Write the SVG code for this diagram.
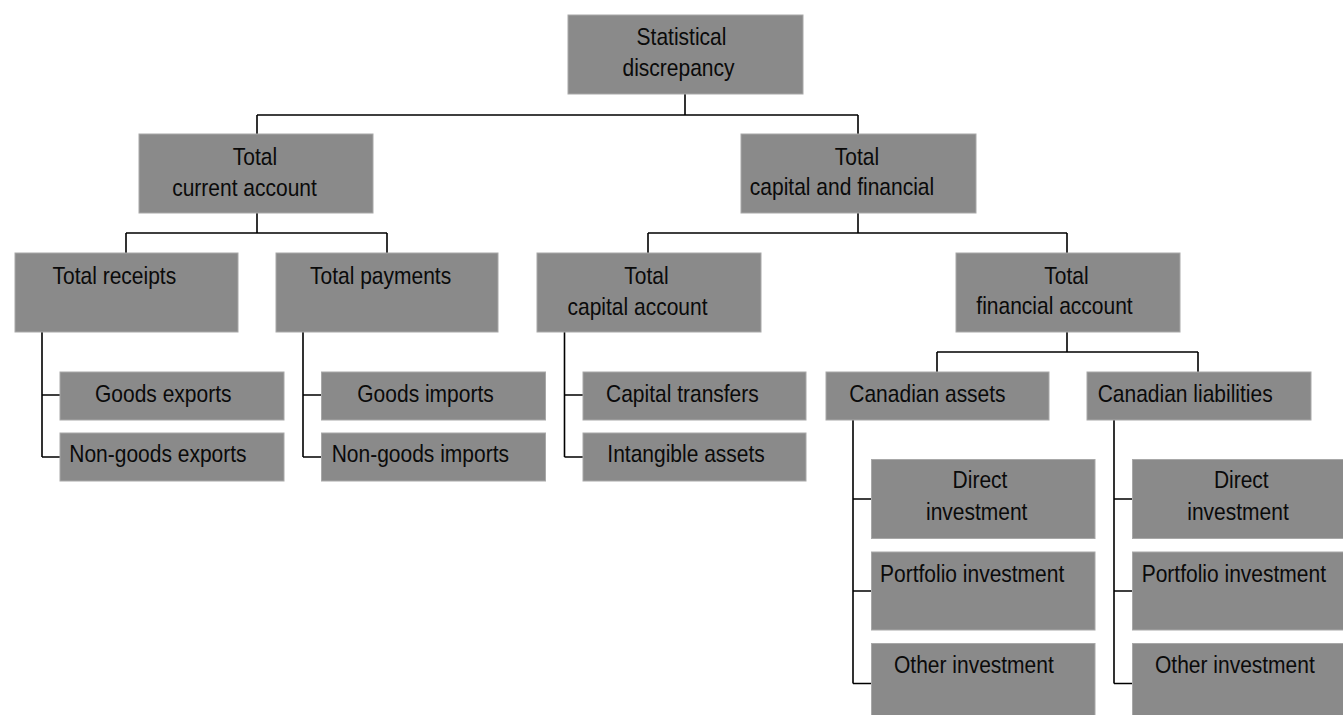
<svg xmlns="http://www.w3.org/2000/svg" width="1343" height="715" viewBox="0 0 1343 715">
  <style>
    .box { fill: #8a8a8a; stroke: #a8a8a8; stroke-width: 1; }
    .lbl { font-family: "Liberation Sans", Arial, sans-serif; font-size: 24px; fill: #0a0a0a; }
    .mid { text-anchor: middle; }
    .wire { fill: none; stroke: #000000; stroke-width: 1.6; }
  </style>
  <rect width="1343" height="715" fill="#ffffff"/>

  <!-- tree connectors -->
  <g id="connectors" class="wire">
    <path d="M685 94 V115 M257 115 H858 M257 115 V134 M858 115 V134"/>
    <path d="M257 213 V233 M126 233 H387 M126 233 V253 M387 233 V253"/>
    <path d="M858 213 V233 M648 233 H1067 M648 233 V253 M1067 233 V253"/>
    <path d="M42 332 V457 M42 395 H60 M42 457 H60"/>
    <path d="M303 332 V457 M303 395 H321.5 M303 457 H321.5"/>
    <path d="M564.5 332 V457 M564.5 395 H583 M564.5 457 H583"/>
    <path d="M1067 332 V352 M937 352 H1198 M937 352 V372 M1198 352 V372"/>
    <path d="M853 420 V683.5 M853 499 H871.5 M853 591 H871.5 M853 683.5 H871.5"/>
    <path d="M1114 420 V683.5 M1114 499 H1132.5 M1114 591 H1132.5 M1114 683.5 H1132.5"/>
  </g>

  <!-- labels use a narrowed Arial-metric face: translate to the anchor, then squeeze horizontally -->
  <g id="statistical-discrepancy">
    <rect class="box" x="568" y="15" width="235" height="79"/>
    <text class="lbl mid" transform="translate(681.5 0) scale(0.875 1)" y="45">Statistical</text>
    <text class="lbl mid" transform="translate(678.5 0) scale(0.875 1)" y="76">discrepancy</text>
  </g>

  <g id="total-current-account">
    <rect class="box" x="139" y="134" width="234" height="79"/>
    <text class="lbl mid" transform="translate(255 0) scale(0.875 1)" y="165.5">Total</text>
    <text class="lbl mid" transform="translate(244.5 0) scale(0.875 1)" y="196">current account</text>
  </g>

  <g id="total-capital-and-financial">
    <rect class="box" x="741" y="134" width="235" height="79"/>
    <text class="lbl mid" transform="translate(857 0) scale(0.875 1)" y="165">Total</text>
    <text class="lbl mid" transform="translate(842 0) scale(0.875 1)" y="195">capital and financial</text>
  </g>

  <g id="total-receipts">
    <rect class="box" x="15" y="253" width="223" height="79"/>
    <text class="lbl" transform="translate(52.5 0) scale(0.875 1)" y="284.3">Total receipts</text>
  </g>

  <g id="total-payments">
    <rect class="box" x="276" y="253" width="222" height="79"/>
    <text class="lbl" transform="translate(310 0) scale(0.875 1)" y="284.3">Total payments</text>
  </g>

  <g id="total-capital-account">
    <rect class="box" x="537" y="253" width="224" height="79"/>
    <text class="lbl mid" transform="translate(646.5 0) scale(0.875 1)" y="284.3">Total</text>
    <text class="lbl mid" transform="translate(637.5 0) scale(0.875 1)" y="315">capital account</text>
  </g>

  <g id="total-financial-account">
    <rect class="box" x="956" y="253" width="224" height="79"/>
    <text class="lbl mid" transform="translate(1066.5 0) scale(0.875 1)" y="284">Total</text>
    <text class="lbl mid" transform="translate(1054.5 0) scale(0.875 1)" y="314">financial account</text>
  </g>

  <g id="goods-exports">
    <rect class="box" x="60" y="372" width="224" height="48"/>
    <text class="lbl" transform="translate(95 0) scale(0.875 1)" y="402">Goods exports</text>
  </g>

  <g id="non-goods-exports">
    <rect class="box" x="60" y="433" width="224" height="48"/>
    <text class="lbl" transform="translate(69.3 0) scale(0.875 1)" y="462.5">Non-goods exports</text>
  </g>

  <g id="goods-imports">
    <rect class="box" x="321.5" y="372" width="224" height="48"/>
    <text class="lbl" transform="translate(357.3 0) scale(0.875 1)" y="402">Goods imports</text>
  </g>

  <g id="non-goods-imports">
    <rect class="box" x="321.5" y="433" width="224" height="48"/>
    <text class="lbl" transform="translate(331.7 0) scale(0.875 1)" y="462.5">Non-goods imports</text>
  </g>

  <g id="capital-transfers">
    <rect class="box" x="583" y="372" width="223" height="48"/>
    <text class="lbl" transform="translate(606 0) scale(0.875 1)" y="402">Capital transfers</text>
  </g>

  <g id="intangible-assets">
    <rect class="box" x="583" y="433" width="223" height="48"/>
    <text class="lbl" transform="translate(607.3 0) scale(0.875 1)" y="462.5">Intangible assets</text>
  </g>

  <g id="canadian-assets">
    <rect class="box" x="826" y="372" width="223" height="48"/>
    <text class="lbl" transform="translate(849.3 0) scale(0.875 1)" y="402">Canadian assets</text>
  </g>

  <g id="canadian-liabilities">
    <rect class="box" x="1087" y="372" width="224" height="48"/>
    <text class="lbl" transform="translate(1097.7 0) scale(0.875 1)" y="402">Canadian liabilities</text>
  </g>

  <g id="assets-direct-investment">
    <rect class="box" x="871.5" y="459.5" width="223.5" height="79"/>
    <text class="lbl mid" transform="translate(980 0) scale(0.875 1)" y="488.5">Direct</text>
    <text class="lbl mid" transform="translate(976.7 0) scale(0.875 1)" y="520">investment</text>
  </g>

  <g id="assets-portfolio-investment">
    <rect class="box" x="871.5" y="552" width="223.5" height="78"/>
    <text class="lbl" transform="translate(880 0) scale(0.875 1)" y="582">Portfolio investment</text>
  </g>

  <g id="assets-other-investment">
    <rect class="box" x="871.5" y="643.5" width="223.5" height="80"/>
    <text class="lbl" transform="translate(894 0) scale(0.875 1)" y="673.5">Other investment</text>
  </g>

  <g id="liabilities-direct-investment">
    <rect class="box" x="1132.5" y="459.5" width="223.5" height="79"/>
    <text class="lbl mid" transform="translate(1241.3 0) scale(0.875 1)" y="488.5">Direct</text>
    <text class="lbl mid" transform="translate(1238 0) scale(0.875 1)" y="520">investment</text>
  </g>

  <g id="liabilities-portfolio-investment">
    <rect class="box" x="1132.5" y="552" width="223.5" height="78"/>
    <text class="lbl" transform="translate(1141.7 0) scale(0.875 1)" y="582">Portfolio investment</text>
  </g>

  <g id="liabilities-other-investment">
    <rect class="box" x="1132.5" y="643.5" width="223.5" height="80"/>
    <text class="lbl" transform="translate(1155 0) scale(0.875 1)" y="673.5">Other investment</text>
  </g>
</svg>
